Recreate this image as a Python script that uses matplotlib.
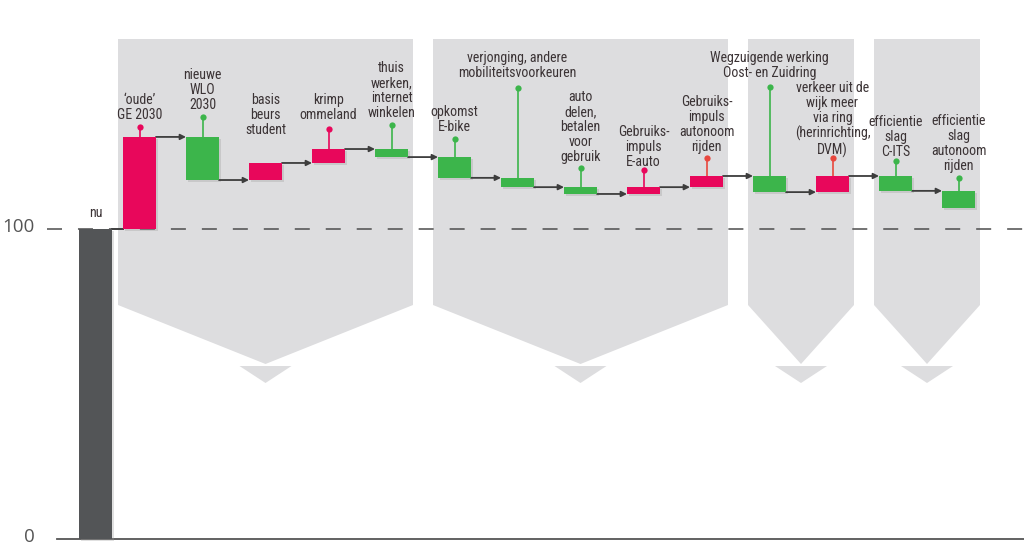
import matplotlib.pyplot as plt
from matplotlib import font_manager as fm
from matplotlib.patches import Polygon
import numpy as np

plt.rcParams['lines.scale_dashes'] = False

# data: index now = 100, then the effect of each factor
start = 100
start_label = 'nu'
steps = ["\u2018oude\u2019\nGE 2030",
         "nieuwe\nWLO\n2030",
         "basis\nbeurs\nstudent",
         "krimp\nommeland",
         "thuis\nwerken,\ninternet\nwinkelen",
         "opkomst\nE-bike",
         "verjonging, andere\nmobiliteitsvoorkeuren",
         "auto\ndelen,\nbetalen\nvoor\ngebruik",
         "Gebruiks-\nimpuls\nE-auto",
         "Gebruiks-\nimpuls\nautonoom\nrijden",
         "Wegzuigende werking\nOost- en Zuidring",
         "verkeer uit de\nwijk meer\nvia ring\n(herinrichting,\nDVM)",
         "efficientie\nslag\nC-ITS",
         "efficientie\nslag\nautonoom\nrijden"]
deltas = [29.7, -13.9, 5.5, 4.5, -2.6, -6.7, -3.0, -2.2, 2.2, 3.6, -5.2, 5.2, -4.8, -5.5]
groups = [(0, 4), (5, 9), (10, 11), (12, 13)]
yticks = [0, 100]

# label layout (pixels above bar top)
pin_px = [10, 20, None, 20, 24, 18, 90, 19, 17, 18, 89, 18, 15, 13]
text_px = [15, 25, 26, 27, 29, 23, 98, 23, 18, 22, 96, 18, 17, 18]

PINK = '#e8075b'
GREEN = '#3cb54b'
RED = '#e8473e'
DARK = '#535557'
PANEL = '#dddddf'
TEXT = '#3b3335'

# pick a narrow font if one is installed
names = {f.name for f in fm.fontManager.ttflist}
narrow = [f.name for f in fm.fontManager.ttflist
          if f.stretch in ('condensed', 'semi-condensed', 'extra-condensed')]
label_font = dict(family=['DejaVu Sans'], fontstretch='condensed')
for cand in ['Liberation Sans Narrow', 'Roboto Condensed', 'Open Sans Condensed',
             'Noto Sans Condensed']:
    if cand in names:
        label_font = dict(family=[cand, 'DejaVu Sans'])
        break
else:
    if narrow:
        label_font = dict(family=[narrow[0], 'DejaVu Sans'], fontstretch='condensed')

# pixel <-> data mapping
PX_X = 1 / 63
PX_Y = 1 / 3.1
def px2x(p):
    return (p - 139.5) * PX_X + 1
def px2y(p):
    return (539 - p) * PX_Y

fig = plt.figure(figsize=(10.24, 5.45), dpi=100)
ax = fig.add_axes([0, 0, 1, 1])
ax.axis('off')
ax.set_xlim(px2x(0), px2x(1024))
ax.set_ylim(px2y(545), px2y(0))

W = 33 * PX_X
xs = np.arange(1, len(steps) + 1)
nu_x = px2x(95.5)
deltas = np.array(deltas)
ends = start + np.cumsum(deltas)
begins = ends - deltas
colors = [PINK if d > 0 else GREEN for d in deltas]
pin_colors = list(colors)
pin_colors[9] = RED
pin_colors[11] = RED

# grey arrow panels behind the groups
top, chev, tip = px2y(39), px2y(305), px2y(364)
ah_top, ah_tip, hw = px2y(366), px2y(383), 26 * PX_X
for a, b in groups:
    left = xs[a] - W / 2 - 5 * PX_X
    right = xs[b] + W / 2 + 5 * PX_X
    mid = (left + right) / 2
    ax.add_patch(Polygon([(left, top), (right, top), (right, chev), (mid, tip), (left, chev)],
                         closed=True, fc=PANEL, ec='none', zorder=1))
    ax.add_patch(Polygon([(mid - hw, ah_top), (mid + hw, ah_top), (mid, ah_tip)],
                         closed=True, fc=PANEL, ec='none', zorder=1))

# reference line at 100 and baseline
ax.plot([px2x(47), px2x(1024)], [100, 100], color='#4d4d4d', lw=1.1,
        dashes=(10.8, 11.5), zorder=2)
ax.plot([px2x(57), px2x(1024)], [0, 0], color='#555555', lw=1.3, zorder=2)
for t in yticks:
    ax.text(px2x(35), t + 1.5 * PX_Y, str(t), ha='right', va='center', fontsize=13.5,
            color='#555555', family=['Open Sans', 'DejaVu Sans'])

# bars with a soft shadow
ax.bar(nu_x + 2 * PX_X, start, bottom=-2 * PX_Y, width=W, color='#999999', alpha=0.3, zorder=3)
ax.bar(nu_x, start, width=W, color=DARK, zorder=4)
ax.bar(xs + 2 * PX_X, deltas, bottom=begins - 2 * PX_Y, width=W, color='#999999', alpha=0.3, zorder=3)
ax.bar(xs, deltas, bottom=begins, width=W, color=colors, zorder=4)
ax.text(nu_x, start + 9 * PX_Y, start_label, ha='center', va='bottom', fontsize=10,
        color=TEXT, **label_font)

# connectors
ax.plot([nu_x + W / 2, xs[0] - W / 2], [start, start], color='#3d3d3d', lw=1.3, zorder=3.5)
for i in range(len(steps) - 1):
    ax.annotate('', xy=(xs[i + 1] - W / 2, ends[i]), xytext=(xs[i] + W / 2, ends[i]),
                arrowprops=dict(arrowstyle='-|>', mutation_scale=8, lw=1.3, color='#3d3d3d',
                                shrinkA=0, shrinkB=0), zorder=3.5)

# pins and labels
for i, label in enumerate(steps):
    bt = max(begins[i], ends[i])
    if pin_px[i] is not None:
        py = bt + pin_px[i] * PX_Y
        ax.plot([xs[i], xs[i]], [bt, py], color=pin_colors[i], lw=1.2, zorder=3.6)
        ax.plot(xs[i], py, 'o', ms=4.5, color=pin_colors[i], mec='none', zorder=3.7)
    ax.text(xs[i], bt + text_px[i] * PX_Y, label, ha='center', va='bottom', fontsize=10,
            color=TEXT, linespacing=1.1, zorder=5, **label_font)

fig.savefig('out.png', dpi=100)
